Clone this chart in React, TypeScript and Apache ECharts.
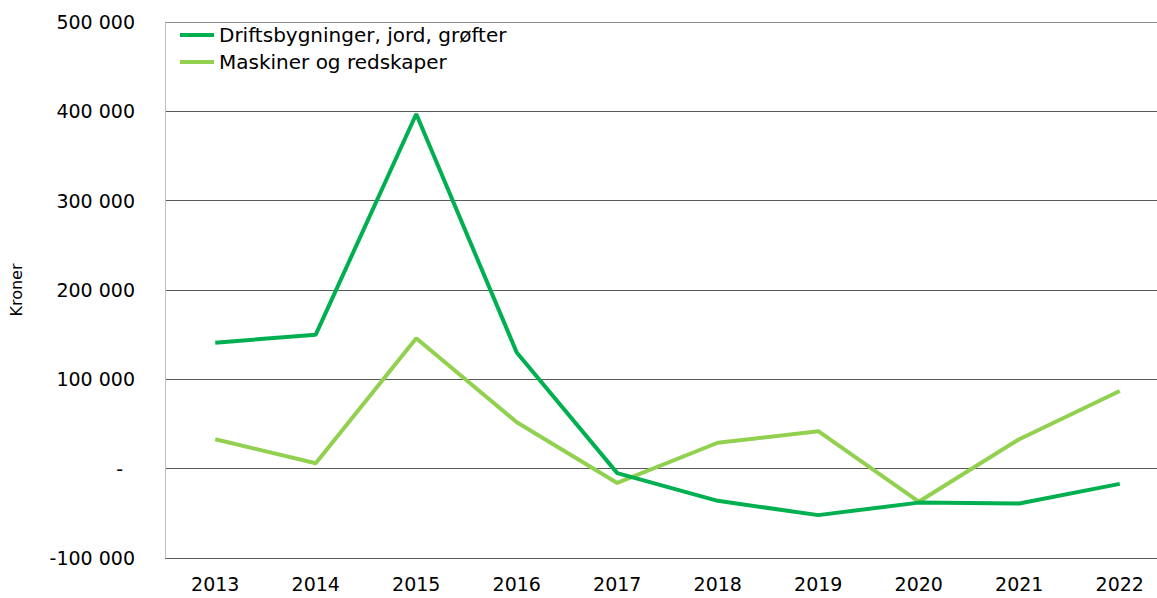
import React, { useEffect, useRef } from "react";
import * as echarts from "echarts";

const years = ["2013", "2014", "2015", "2016", "2017", "2018", "2019", "2020", "2021", "2022"];
const driftsbygninger = [141000, 150000, 397000, 130000, -5000, -36000, -52000, -38000, -39000, -17000];
const maskiner = [33000, 6000, 146000, 52000, -16000, 29000, 42000, -37000, 33000, 87000];
const seriesNames = ["Driftsbygninger, jord, grøfter", "Maskiner og redskaper"];
const yTicks = { min: -100000, max: 500000, interval: 100000 };

const FONT = "DejaVu Sans";

function fmt(v: number): string {
  if (v === 0) return "{z|-}";
  const s = Math.abs(v).toString().replace(/\B(?=(\d{3})+(?!\d))/g, " ");
  return (v < 0 ? "-" : "") + s;
}

export default function App() {
  const ref = useRef<HTMLDivElement>(null);
  useEffect(() => {
    if (!ref.current) return;
    const chart = echarts.init(ref.current, null, { renderer: "svg" });
    chart.setOption({
      animation: false,
      backgroundColor: "#ffffff",
      textStyle: { fontFamily: FONT },
      grid: { left: 160, top: 22, height: 536, width: 1010, containLabel: false },
      legend: {
        orient: "vertical",
        left: 180,
        top: 25,
        padding: 0,
        itemGap: 7,
        itemWidth: 34,
        itemHeight: 4,
        icon: "rect",
        textStyle: { fontFamily: FONT, fontSize: 20, color: "#000000" },
        data: seriesNames,
      },
      xAxis: {
        type: "category",
        data: years,
        boundaryGap: true,
        axisLine: { show: false },
        axisTick: { show: false },
        axisLabel: { fontFamily: FONT, fontSize: 19, color: "#000000", margin: 16 },
      },
      yAxis: {
        type: "value",
        min: yTicks.min,
        max: yTicks.max,
        interval: yTicks.interval,
        name: "Kroner",
        nameLocation: "middle",
        nameRotate: 90,
        nameGap: 141,
        nameTextStyle: { fontFamily: FONT, fontSize: 16, color: "#000000" },
        axisLine: { show: true, lineStyle: { color: "#BFBFBF", width: 1 } },
        axisTick: { show: false },
        axisLabel: {
          fontFamily: FONT,
          fontSize: 19,
          color: "#000000",
          margin: 30,
          formatter: fmt,
          rich: { z: { fontFamily: FONT, fontSize: 19, color: "#000000", padding: [0, 12, 0, 0] } },
        },
        splitLine: {
          show: true,
          lineStyle: {
            color: ["#595959", "#595959", "#595959", "#595959", "#595959", "#595959", "#8C8C8C"],
            width: 1,
          },
        },
      },
      series: [
        {
          name: seriesNames[0],
          type: "line",
          data: driftsbygninger,
          symbol: "none",
          lineStyle: { color: "#00B050", width: 4 },
          itemStyle: { color: "#00B050" },
          z: 3,
        },
        {
          name: seriesNames[1],
          type: "line",
          data: maskiner,
          symbol: "none",
          lineStyle: { color: "#92D050", width: 4 },
          itemStyle: { color: "#92D050" },
          z: 2,
        },
      ],
    });
    return () => chart.dispose();
  }, []);
  return (
    <div
      ref={ref}
      style={{ position: "fixed", left: 0, top: 0, width: 1170, height: 598, background: "#fff" }}
    />
  );
}
